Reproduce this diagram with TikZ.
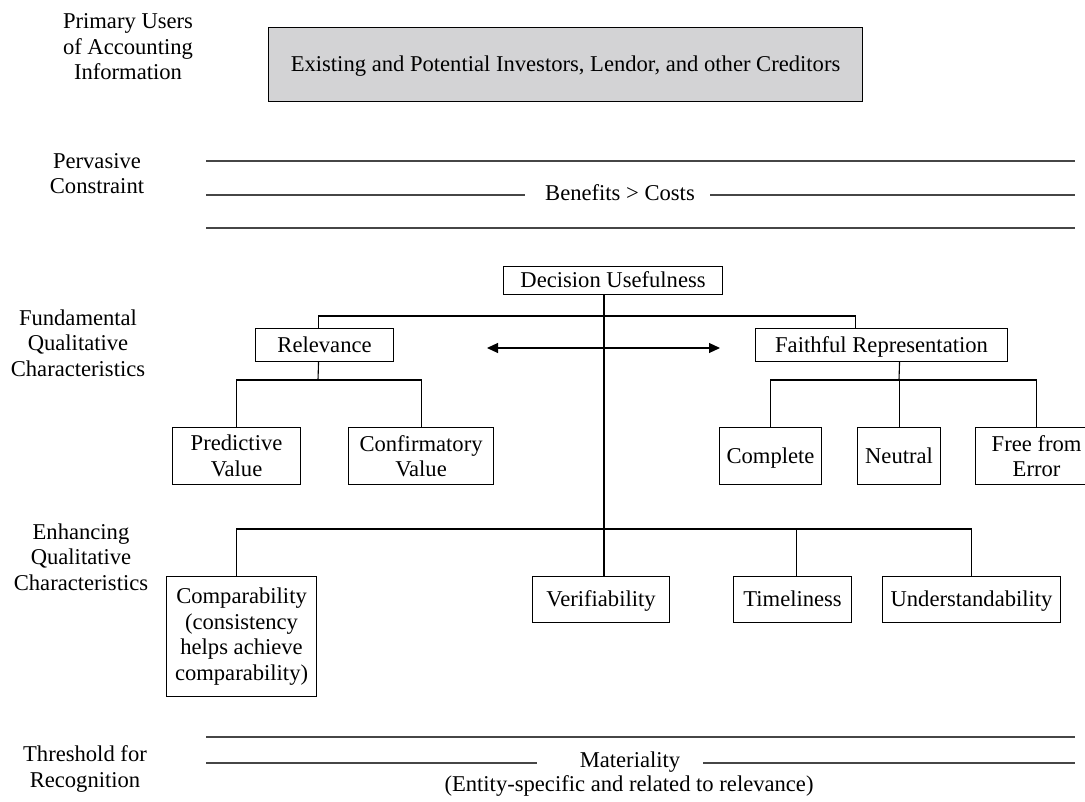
\documentclass[tikz,border=0pt]{standalone}
\usepackage{fontspec}
\setmainfont{Liberation Serif}
\usetikzlibrary{arrows.meta}
\definecolor{usersfill}{RGB}{211,211,213}
\definecolor{rulegray}{RGB}{70,70,70}

\begin{document}
\begin{tikzpicture}[x=1pt,y=-1pt,
  every node/.style={font=\fontsize{22.6}{25.5}\selectfont, inner sep=0pt},
  box/.style={draw=black, line width=1.1pt, align=center, anchor=north west},
  oneline/.style={text height=17pt, text depth=3pt},
  sidelabel/.style={align=center},
  link/.style={draw=black, line width=1.1pt},
  band/.style={draw=rulegray, line width=1.5pt},
  bothways/.style={link, {Triangle[length=11pt,width=10pt]}-{Triangle[length=11pt,width=10pt]}}
]
\useasboundingbox (0,0) rectangle (1085,802);
\clip (0,0) rectangle (1085,802);

% ---- row labels on the left
\node[sidelabel] (lusers) at (128,47) {Primary Users\\of Accounting\\Information};
\node[sidelabel] (lperv)  at (97,173.5) {Pervasive\\Constraint};
\node[sidelabel] (lfund)  at (78,343) {Fundamental\\Qualitative\\Characteristics};
\node[sidelabel] (lenh)   at (81,557) {Enhancing\\Qualitative\\Characteristics};
\node[sidelabel] (lthr)   at (85,769) {Threshold for\\Recognition};

% ---- primary users
\node[box, oneline, fill=usersfill, minimum width=594pt, minimum height=74pt] (users) at (268,27)
  {Existing and Potential Investors, Lendor, and other Creditors};

% ---- pervasive constraint band
\coordinate (p1a) at (206,161); \coordinate (p1b) at (1075,161);
\coordinate (p2a) at (206,195); \coordinate (p2b) at (525,195);
\coordinate (p2c) at (710,195); \coordinate (p2d) at (1075,195);
\coordinate (p3a) at (206,228); \coordinate (p3b) at (1075,228);
\node (bc) at (620,193) {Benefits > Costs};
\draw[band] (p1a) -- (p1b);
\draw[band] (p2a) -- (p2b);
\draw[band] (p2c) -- (p2d);
\draw[band] (p3a) -- (p3b);

% ---- fundamental characteristics
\node[box, oneline, minimum width=219pt, minimum height=28pt] (du) at (503,266) {Decision Usefulness};
\node[box, oneline, minimum width=138pt, minimum height=33pt] (rel) at (255,328) {Relevance};
\node[box, oneline, minimum width=252pt, minimum height=33pt] (faith) at (755,328) {Faithful Representation};
\node[box, minimum width=128pt, minimum height=57pt] (pred) at (172,427) {Predictive\\Value};
\node[box, minimum width=145pt, minimum height=57pt] (conf) at (348,427) {Confirmatory\\Value};
\node[box, oneline, minimum width=102pt, minimum height=57pt] (comp) at (719,427) {Complete};
\node[box, oneline, minimum width=83pt,  minimum height=57pt] (neut) at (857,427) {Neutral};
\node[box, minimum width=122pt, minimum height=57pt] (free) at (975,427) {Free from\\Error};

% ---- enhancing characteristics
\node[box, minimum width=150pt, minimum height=120pt] (cmp) at (166,576)
  {Comparability\\(consistency\\helps achieve\\comparability)};
\node[box, oneline, minimum width=137pt, minimum height=46pt] (ver) at (532,576) {Verifiability};
\node[box, oneline, minimum width=118pt, minimum height=46pt] (tim) at (733,576) {Timeliness};
\node[box, oneline, minimum width=178pt, minimum height=46pt] (und) at (882,576) {Understandability};

% ---- junction levels
\coordinate (fb)  at (604,316);
\coordinate (rb)  at (318,380);
\coordinate (fcb) at (899,380);
\coordinate (eb)  at (604,529);

% trunk from decision usefulness down to verifiability
\draw[link] (du.south -| eb) -- (ver.north -| eb);

% decision usefulness to the two fundamental characteristics
\draw[link] ([xshift=-6pt]rel.north) |- (fb) -| ([xshift=-26pt]faith.north);

% relevance and its components
\draw[link] ([xshift=-6pt]rel.south) -- (rb);
\draw[link] (pred.north) |- (rb) -| (conf.north);

% faithful representation and its components
\draw[link] ([xshift=18pt]faith.south) -- (fcb);
\draw[link] (comp.north) |- (fcb) -| (free.north);
\draw[link] (neut.north) -- (neut.north |- fcb);

% two-way arrow between the fundamental characteristics
\coordinate (al) at (487,348);
\coordinate (ar) at (720,348);
\draw[bothways] (al) -- (ar);

% enhancing characteristics
\draw[link] ([xshift=-5pt]cmp.north) |- (eb) -| (und.north);
\draw[link] ([xshift=4pt]tim.north) -- ([xshift=4pt]tim.north |- eb);

% ---- materiality band
\coordinate (m1a) at (206,737); \coordinate (m1b) at (1075,737);
\coordinate (m2a) at (206,763); \coordinate (m2b) at (537,763);
\coordinate (m2c) at (703,763); \coordinate (m2d) at (1075,763);
\node (mat) at (630,762) {Materiality};
\node (matnote) at (629,786) {(Entity-specific and related to relevance)};
\draw[band] (m1a) -- (m1b);
\draw[band] (m2a) -- (m2b);
\draw[band] (m2c) -- (m2d);
\end{tikzpicture}
\end{document}
